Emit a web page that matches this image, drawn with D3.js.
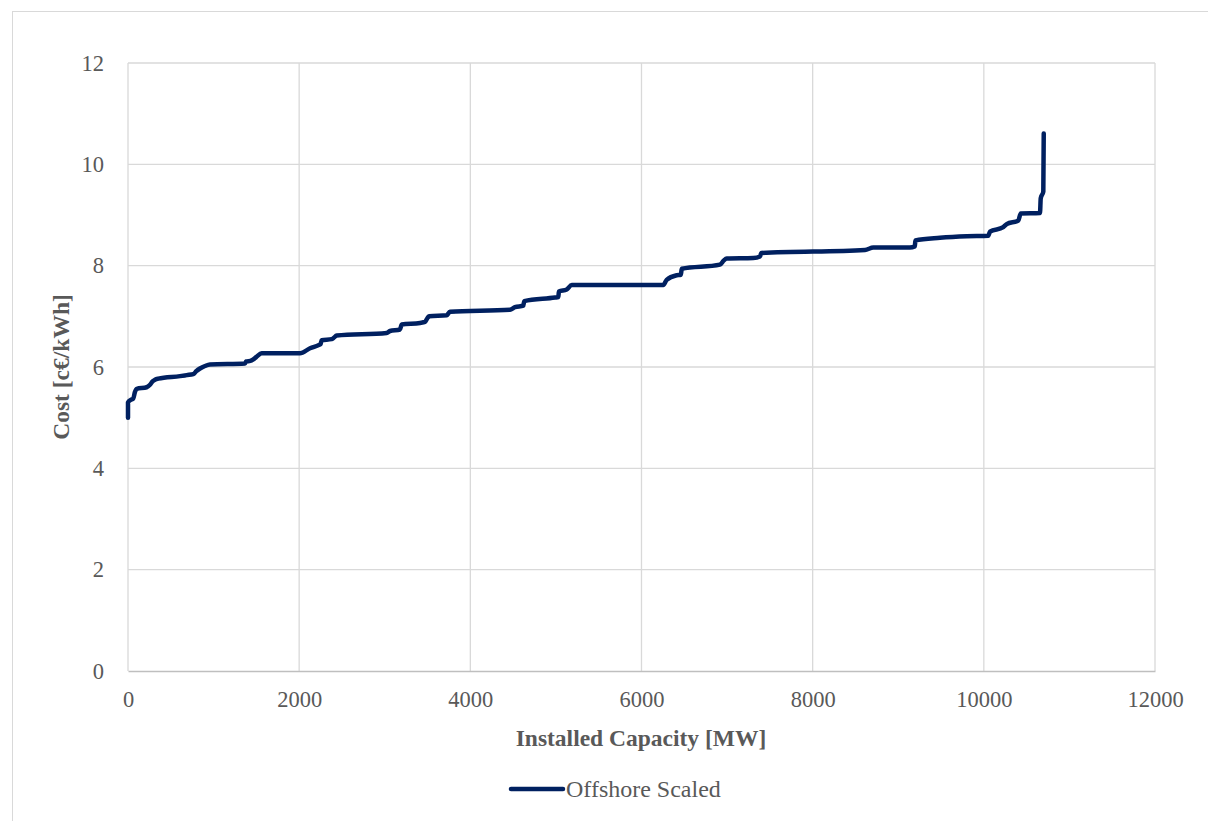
<!DOCTYPE html>
<html>
<head>
<meta charset="utf-8">
<script src="https://cdn.jsdelivr.net/npm/d3@7"></script>
<style>
  html, body { margin: 0; padding: 0; background: #fff; }
  svg { display: block; }
  text { font-family: "Liberation Serif", "DejaVu Serif", serif; fill: #595959; }
</style>
</head>
<body>
<svg id="chart" width="1208" height="821"></svg>
<script>
// Data
const seriesName = "Offshore Scaled";
const capacityMW = [0, 0, 30, 62, 80, 102, 218, 257, 290, 316, 354, 608, 686, 763, 800, 841, 900, 958,
  1367, 1380, 1430, 1464, 1500, 1562, 2010, 2127, 2224, 2250, 2263, 2380, 2400, 2439, 3023, 3061, 3178,
  3198, 3412, 3470, 3500, 3520, 3724, 3762, 4463, 4522, 4619, 4630, 4989, 5028, 5035, 5126, 5185, 6255,
  6294, 6411, 6460, 6470, 6917, 6960, 6996, 7306, 7385, 7400, 8611, 8709, 9136, 9194, 9200, 9487, 9800,
  10052, 10072, 10227, 10267, 10403, 10431, 10656, 10665, 10695, 10700];
const costCents = [5.0, 5.3, 5.35, 5.38, 5.5, 5.57, 5.60, 5.65, 5.72, 5.75, 5.77, 5.82, 5.84, 5.86, 5.92, 5.97, 6.02, 6.05,
  6.07, 6.11, 6.12, 6.15, 6.2, 6.27, 6.27, 6.37, 6.43, 6.45, 6.53, 6.55, 6.57, 6.62, 6.67, 6.71, 6.74,
  6.84, 6.87, 6.89, 6.97, 7.0, 7.02, 7.09, 7.13, 7.18, 7.21, 7.30, 7.37, 7.38, 7.49, 7.53, 7.62, 7.62,
  7.72, 7.81, 7.82, 7.94, 8.02, 8.10, 8.14, 8.15, 8.18, 8.25, 8.31, 8.36, 8.36, 8.38, 8.50, 8.55, 8.58,
  8.59, 8.67, 8.76, 8.82, 8.89, 9.03, 9.04, 9.33, 9.46, 10.61];
const xTicks = [0, 2000, 4000, 6000, 8000, 10000, 12000];
const yTicks = [0, 2, 4, 6, 8, 10, 12];
const xTitle = "Installed Capacity [MW]";
const yTitle = "Cost [c€/kWh]";

const svg = d3.select("#chart");
const W = 1208, H = 821;
const plot = { left: 128, right: 1155, top: 63, bottom: 671 };
const FS = 22.5;

// outer chart border
svg.append("rect").attr("x", 12.5).attr("y", 11.5).attr("width", W).attr("height", H)
  .attr("fill", "none").attr("stroke", "#d9d9d9").attr("stroke-width", 1);

const x = d3.scaleLinear().domain([0, 12000]).range([plot.left, plot.right]);
const y = d3.scaleLinear().domain([0, 12]).range([plot.bottom, plot.top]);

// gridlines
svg.append("g").selectAll("line.h").data(yTicks.filter(d => d > 0)).join("line")
  .attr("x1", plot.left).attr("x2", plot.right)
  .attr("y1", d => y(d)).attr("y2", d => y(d))
  .attr("stroke", "#d9d9d9").attr("stroke-width", 1.3);
svg.append("g").selectAll("line.v").data(xTicks).join("line")
  .attr("x1", d => x(d)).attr("x2", d => x(d))
  .attr("y1", plot.top).attr("y2", plot.bottom)
  .attr("stroke", "#d9d9d9").attr("stroke-width", 1.3);

// x axis
const xAxis = svg.append("g").attr("transform", `translate(0,${plot.bottom})`)
  .call(d3.axisBottom(x).tickValues(xTicks).tickSize(0).tickPadding(20).tickFormat(d3.format("d")));
xAxis.select(".domain").attr("stroke", "#bfbfbf").attr("stroke-width", 1.6);
xAxis.selectAll("text").attr("font-size", FS).attr("fill", "#595959")
  .style("font-family", '"Liberation Serif", serif');

// y axis
const yAxis = svg.append("g").attr("transform", `translate(${plot.left},0)`)
  .call(d3.axisLeft(y).tickValues(yTicks).tickSize(0).tickPadding(24).tickFormat(d3.format("d")));
yAxis.select(".domain").remove();
yAxis.selectAll("text").attr("font-size", FS).attr("fill", "#595959")
  .style("font-family", '"Liberation Serif", serif');

// titles
svg.append("text").attr("x", 641).attr("y", 746)
  .attr("text-anchor", "middle").attr("font-size", 23.5).attr("font-weight", "bold").text(xTitle);
svg.append("text").attr("transform", `translate(69,${(plot.top + plot.bottom) / 2}) rotate(-90)`)
  .attr("text-anchor", "middle").attr("font-size", 23.5).attr("font-weight", "bold").text(yTitle);

// series line
const data = capacityMW.map((c, i) => [c, costCents[i]]);
svg.append("path").datum(data)
  .attr("fill", "none").attr("stroke", "#002060").attr("stroke-width", 4.5)
  .attr("stroke-linejoin", "round").attr("stroke-linecap", "round")
  .attr("d", d3.line().x(d => x(d[0])).y(d => y(d[1])).curve(d3.curveMonotoneX));

// legend
svg.append("line").attr("x1", 511).attr("x2", 563).attr("y1", 789).attr("y2", 789)
  .attr("stroke", "#002060").attr("stroke-width", 4.5).attr("stroke-linecap", "round");
svg.append("text").attr("x", 566).attr("y", 797).attr("font-size", 24).text(seriesName);
</script>
</body>
</html>
